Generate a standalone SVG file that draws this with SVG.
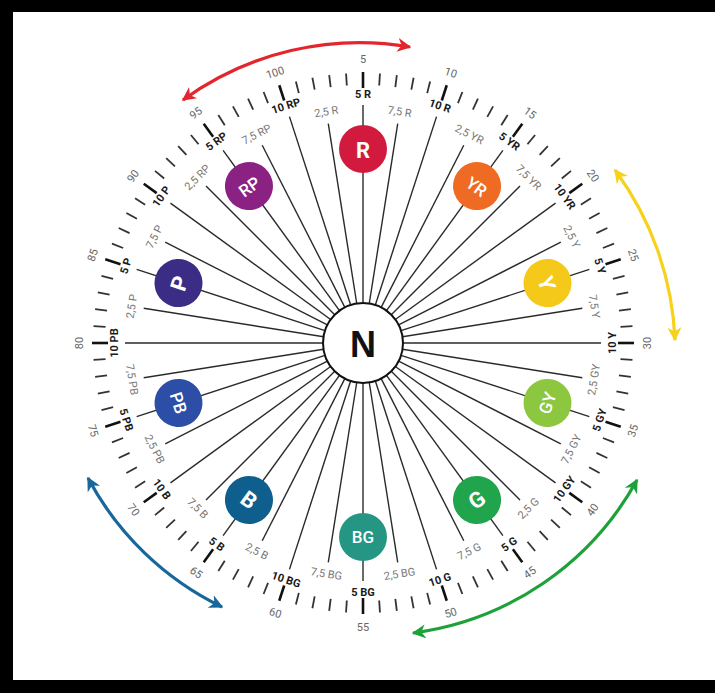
<svg xmlns="http://www.w3.org/2000/svg" xmlns:xlink="http://www.w3.org/1999/xlink" width="715" height="693" viewBox="0 0 715 693">
<style>
.ray{stroke:#2a2a2a;stroke-width:1.4}
.tk{stroke:#333;stroke-width:1.8}
.tkM{stroke:#111;stroke-width:2.6}
text{font-family:Roboto,"Liberation Sans",sans-serif;text-anchor:middle;dominant-baseline:central}
.lb{font-size:11px;font-weight:700;fill:#1a1a1a}
.lg{font-size:11px;font-weight:400;fill:#777}
.num{font-size:11px;font-weight:400;fill:#666}
.h1{font-size:22px;font-weight:700;fill:#fff}
.h2{font-size:17px;font-weight:500;fill:#fff}
.arc{fill:none;stroke-width:3.2}
</style>
<defs>
<line id="rb" class="ray" x1="363" y1="303" x2="363" y2="105"/>
<line id="rg" class="ray" x1="363" y1="303" x2="363" y2="121"/>
<line id="tk" class="tk" x1="363" y1="73" x2="363" y2="85"/>
<line id="tkM" class="tkM" x1="363" y1="72" x2="363" y2="88"/>
<marker id="mR" viewBox="0 0 10 10" refX="9" refY="5" markerWidth="14" markerHeight="14" markerUnits="userSpaceOnUse" orient="auto-start-reverse"><path d="M0,0 L10,5 L0,10 L3,5 z" fill="#e3262e"/></marker>
<marker id="mY" viewBox="0 0 10 10" refX="9" refY="5" markerWidth="14" markerHeight="14" markerUnits="userSpaceOnUse" orient="auto-start-reverse"><path d="M0,0 L10,5 L0,10 L3,5 z" fill="#f7d21c"/></marker>
<marker id="mG" viewBox="0 0 10 10" refX="9" refY="5" markerWidth="14" markerHeight="14" markerUnits="userSpaceOnUse" orient="auto-start-reverse"><path d="M0,0 L10,5 L0,10 L3,5 z" fill="#1fa13a"/></marker>
<marker id="mB" viewBox="0 0 10 10" refX="9" refY="5" markerWidth="14" markerHeight="14" markerUnits="userSpaceOnUse" orient="auto-start-reverse"><path d="M0,0 L10,5 L0,10 L3,5 z" fill="#17679a"/></marker>
</defs>
<rect x="0" y="0" width="715" height="693" fill="#000"/>
<rect x="13" y="12" width="702" height="668" fill="#fff"/>

<g id="connectors">
<use href="#rb" transform="rotate(0 363 343)"/>
<use href="#rg" transform="rotate(9 363 343)"/>
<use href="#rb" transform="rotate(18 363 343)"/>
<use href="#rg" transform="rotate(27 363 343)"/>
<use href="#rb" transform="rotate(36 363 343)"/>
<use href="#rg" transform="rotate(45 363 343)"/>
<use href="#rb" transform="rotate(54 363 343)"/>
<use href="#rg" transform="rotate(63 363 343)"/>
<use href="#rb" transform="rotate(72 363 343)"/>
<use href="#rg" transform="rotate(81 363 343)"/>
<use href="#rb" transform="rotate(90 363 343)"/>
<use href="#rg" transform="rotate(99 363 343)"/>
<use href="#rb" transform="rotate(108 363 343)"/>
<use href="#rg" transform="rotate(117 363 343)"/>
<use href="#rb" transform="rotate(126 363 343)"/>
<use href="#rg" transform="rotate(135 363 343)"/>
<use href="#rb" transform="rotate(144 363 343)"/>
<use href="#rg" transform="rotate(153 363 343)"/>
<use href="#rb" transform="rotate(162 363 343)"/>
<use href="#rg" transform="rotate(171 363 343)"/>
<use href="#rb" transform="rotate(180 363 343)"/>
<use href="#rg" transform="rotate(189 363 343)"/>
<use href="#rb" transform="rotate(198 363 343)"/>
<use href="#rg" transform="rotate(207 363 343)"/>
<use href="#rb" transform="rotate(216 363 343)"/>
<use href="#rg" transform="rotate(225 363 343)"/>
<use href="#rb" transform="rotate(234 363 343)"/>
<use href="#rg" transform="rotate(243 363 343)"/>
<use href="#rb" transform="rotate(252 363 343)"/>
<use href="#rg" transform="rotate(261 363 343)"/>
<use href="#rb" transform="rotate(270 363 343)"/>
<use href="#rg" transform="rotate(279 363 343)"/>
<use href="#rb" transform="rotate(288 363 343)"/>
<use href="#rg" transform="rotate(297 363 343)"/>
<use href="#rb" transform="rotate(306 363 343)"/>
<use href="#rg" transform="rotate(315 363 343)"/>
<use href="#rb" transform="rotate(324 363 343)"/>
<use href="#rg" transform="rotate(333 363 343)"/>
<use href="#rb" transform="rotate(342 363 343)"/>
<use href="#rg" transform="rotate(351 363 343)"/>
</g>

<g id="ticks">
<use href="#tkM" transform="rotate(0 363 343)"/><use href="#tk" transform="rotate(3.6 363 343)"/><use href="#tk" transform="rotate(7.2 363 343)"/><use href="#tk" transform="rotate(10.8 363 343)"/><use href="#tk" transform="rotate(14.4 363 343)"/>
<use href="#tkM" transform="rotate(18 363 343)"/><use href="#tk" transform="rotate(21.6 363 343)"/><use href="#tk" transform="rotate(25.2 363 343)"/><use href="#tk" transform="rotate(28.8 363 343)"/><use href="#tk" transform="rotate(32.4 363 343)"/>
<use href="#tkM" transform="rotate(36 363 343)"/><use href="#tk" transform="rotate(39.6 363 343)"/><use href="#tk" transform="rotate(43.2 363 343)"/><use href="#tk" transform="rotate(46.8 363 343)"/><use href="#tk" transform="rotate(50.4 363 343)"/>
<use href="#tkM" transform="rotate(54 363 343)"/><use href="#tk" transform="rotate(57.6 363 343)"/><use href="#tk" transform="rotate(61.2 363 343)"/><use href="#tk" transform="rotate(64.8 363 343)"/><use href="#tk" transform="rotate(68.4 363 343)"/>
<use href="#tkM" transform="rotate(72 363 343)"/><use href="#tk" transform="rotate(75.6 363 343)"/><use href="#tk" transform="rotate(79.2 363 343)"/><use href="#tk" transform="rotate(82.8 363 343)"/><use href="#tk" transform="rotate(86.4 363 343)"/>
<use href="#tkM" transform="rotate(90 363 343)"/><use href="#tk" transform="rotate(93.6 363 343)"/><use href="#tk" transform="rotate(97.2 363 343)"/><use href="#tk" transform="rotate(100.8 363 343)"/><use href="#tk" transform="rotate(104.4 363 343)"/>
<use href="#tkM" transform="rotate(108 363 343)"/><use href="#tk" transform="rotate(111.6 363 343)"/><use href="#tk" transform="rotate(115.2 363 343)"/><use href="#tk" transform="rotate(118.8 363 343)"/><use href="#tk" transform="rotate(122.4 363 343)"/>
<use href="#tkM" transform="rotate(126 363 343)"/><use href="#tk" transform="rotate(129.6 363 343)"/><use href="#tk" transform="rotate(133.2 363 343)"/><use href="#tk" transform="rotate(136.8 363 343)"/><use href="#tk" transform="rotate(140.4 363 343)"/>
<use href="#tkM" transform="rotate(144 363 343)"/><use href="#tk" transform="rotate(147.6 363 343)"/><use href="#tk" transform="rotate(151.2 363 343)"/><use href="#tk" transform="rotate(154.8 363 343)"/><use href="#tk" transform="rotate(158.4 363 343)"/>
<use href="#tkM" transform="rotate(162 363 343)"/><use href="#tk" transform="rotate(165.6 363 343)"/><use href="#tk" transform="rotate(169.2 363 343)"/><use href="#tk" transform="rotate(172.8 363 343)"/><use href="#tk" transform="rotate(176.4 363 343)"/>
<use href="#tkM" transform="rotate(180 363 343)"/><use href="#tk" transform="rotate(183.6 363 343)"/><use href="#tk" transform="rotate(187.2 363 343)"/><use href="#tk" transform="rotate(190.8 363 343)"/><use href="#tk" transform="rotate(194.4 363 343)"/>
<use href="#tkM" transform="rotate(198 363 343)"/><use href="#tk" transform="rotate(201.6 363 343)"/><use href="#tk" transform="rotate(205.2 363 343)"/><use href="#tk" transform="rotate(208.8 363 343)"/><use href="#tk" transform="rotate(212.4 363 343)"/>
<use href="#tkM" transform="rotate(216 363 343)"/><use href="#tk" transform="rotate(219.6 363 343)"/><use href="#tk" transform="rotate(223.2 363 343)"/><use href="#tk" transform="rotate(226.8 363 343)"/><use href="#tk" transform="rotate(230.4 363 343)"/>
<use href="#tkM" transform="rotate(234 363 343)"/><use href="#tk" transform="rotate(237.6 363 343)"/><use href="#tk" transform="rotate(241.2 363 343)"/><use href="#tk" transform="rotate(244.8 363 343)"/><use href="#tk" transform="rotate(248.4 363 343)"/>
<use href="#tkM" transform="rotate(252 363 343)"/><use href="#tk" transform="rotate(255.6 363 343)"/><use href="#tk" transform="rotate(259.2 363 343)"/><use href="#tk" transform="rotate(262.8 363 343)"/><use href="#tk" transform="rotate(266.4 363 343)"/>
<use href="#tkM" transform="rotate(270 363 343)"/><use href="#tk" transform="rotate(273.6 363 343)"/><use href="#tk" transform="rotate(277.2 363 343)"/><use href="#tk" transform="rotate(280.8 363 343)"/><use href="#tk" transform="rotate(284.4 363 343)"/>
<use href="#tkM" transform="rotate(288 363 343)"/><use href="#tk" transform="rotate(291.6 363 343)"/><use href="#tk" transform="rotate(295.2 363 343)"/><use href="#tk" transform="rotate(298.8 363 343)"/><use href="#tk" transform="rotate(302.4 363 343)"/>
<use href="#tkM" transform="rotate(306 363 343)"/><use href="#tk" transform="rotate(309.6 363 343)"/><use href="#tk" transform="rotate(313.2 363 343)"/><use href="#tk" transform="rotate(316.8 363 343)"/><use href="#tk" transform="rotate(320.4 363 343)"/>
<use href="#tkM" transform="rotate(324 363 343)"/><use href="#tk" transform="rotate(327.6 363 343)"/><use href="#tk" transform="rotate(331.2 363 343)"/><use href="#tk" transform="rotate(334.8 363 343)"/><use href="#tk" transform="rotate(338.4 363 343)"/>
<use href="#tkM" transform="rotate(342 363 343)"/><use href="#tk" transform="rotate(345.6 363 343)"/><use href="#tk" transform="rotate(349.2 363 343)"/><use href="#tk" transform="rotate(352.8 363 343)"/><use href="#tk" transform="rotate(356.4 363 343)"/>
</g>

<g id="numbers" class="num">
<text class="num" x="363" y="59" transform="rotate(0 363 343)">5</text>
<text class="num" x="363" y="59" transform="rotate(18 363 343)">10</text>
<text class="num" x="363" y="59" transform="rotate(36 363 343)">15</text>
<text class="num" x="363" y="59" transform="rotate(54 363 343)">20</text>
<text class="num" x="363" y="59" transform="rotate(72 363 343)">25</text>
<text class="num" x="363" y="59" transform="rotate(90 363 343) rotate(180 363 59)">30</text>
<text class="num" x="363" y="59" transform="rotate(108 363 343) rotate(180 363 59)">35</text>
<text class="num" x="363" y="59" transform="rotate(126 363 343) rotate(180 363 59)">40</text>
<text class="num" x="363" y="59" transform="rotate(144 363 343) rotate(180 363 59)">45</text>
<text class="num" x="363" y="59" transform="rotate(162 363 343) rotate(180 363 59)">50</text>
<text class="num" x="363" y="59" transform="rotate(180 363 343) rotate(180 363 59)">55</text>
<text class="num" x="363" y="59" transform="rotate(198 363 343) rotate(180 363 59)">60</text>
<text class="num" x="363" y="59" transform="rotate(216 363 343) rotate(180 363 59)">65</text>
<text class="num" x="363" y="59" transform="rotate(234 363 343) rotate(180 363 59)">70</text>
<text class="num" x="363" y="59" transform="rotate(252 363 343) rotate(180 363 59)">75</text>
<text class="num" x="363" y="59" transform="rotate(270 363 343)">80</text>
<text class="num" x="363" y="59" transform="rotate(288 363 343)">85</text>
<text class="num" x="363" y="59" transform="rotate(306 363 343)">90</text>
<text class="num" x="363" y="59" transform="rotate(324 363 343)">95</text>
<text class="num" x="363" y="59" transform="rotate(342 363 343)">100</text>
</g>

<g id="hue-labels">
<text class="lb" x="363" y="94" transform="rotate(0 363 343)">5 R</text>
<text class="lg" x="363" y="109" transform="rotate(9 363 343)">7,5 R</text>
<text class="lb" x="363" y="94" transform="rotate(18 363 343)">10 R</text>
<text class="lg" x="363" y="109" transform="rotate(27 363 343)">2,5 YR</text>
<text class="lb" x="363" y="94" transform="rotate(36 363 343)">5 YR</text>
<text class="lg" x="363" y="109" transform="rotate(45 363 343)">7,5 YR</text>
<text class="lb" x="363" y="94" transform="rotate(54 363 343)">10 YR</text>
<text class="lg" x="363" y="109" transform="rotate(63 363 343)">2,5 Y</text>
<text class="lb" x="363" y="94" transform="rotate(72 363 343)">5 Y</text>
<text class="lg" x="363" y="109" transform="rotate(81 363 343)">7,5 Y</text>
<text class="lb" x="363" y="94" transform="rotate(90 363 343) rotate(180 363 94)">10 Y</text>
<text class="lg" x="363" y="109" transform="rotate(99 363 343) rotate(180 363 109)">2,5 GY</text>
<text class="lb" x="363" y="94" transform="rotate(108 363 343) rotate(180 363 94)">5 GY</text>
<text class="lg" x="363" y="109" transform="rotate(117 363 343) rotate(180 363 109)">7,5 GY</text>
<text class="lb" x="363" y="94" transform="rotate(126 363 343) rotate(180 363 94)">10 GY</text>
<text class="lg" x="363" y="109" transform="rotate(135 363 343) rotate(180 363 109)">2,5 G</text>
<text class="lb" x="363" y="94" transform="rotate(144 363 343) rotate(180 363 94)">5 G</text>
<text class="lg" x="363" y="109" transform="rotate(153 363 343) rotate(180 363 109)">7,5 G</text>
<text class="lb" x="363" y="94" transform="rotate(162 363 343) rotate(180 363 94)">10 G</text>
<text class="lg" x="363" y="109" transform="rotate(171 363 343) rotate(180 363 109)">2,5 BG</text>
<text class="lb" x="363" y="94" transform="rotate(180 363 343) rotate(180 363 94)">5 BG</text>
<text class="lg" x="363" y="109" transform="rotate(189 363 343) rotate(180 363 109)">7,5 BG</text>
<text class="lb" x="363" y="94" transform="rotate(198 363 343) rotate(180 363 94)">10 BG</text>
<text class="lg" x="363" y="109" transform="rotate(207 363 343) rotate(180 363 109)">2,5 B</text>
<text class="lb" x="363" y="94" transform="rotate(216 363 343) rotate(180 363 94)">5 B</text>
<text class="lg" x="363" y="109" transform="rotate(225 363 343) rotate(180 363 109)">7,5 B</text>
<text class="lb" x="363" y="94" transform="rotate(234 363 343) rotate(180 363 94)">10 B</text>
<text class="lg" x="363" y="109" transform="rotate(243 363 343) rotate(180 363 109)">2,5 PB</text>
<text class="lb" x="363" y="94" transform="rotate(252 363 343) rotate(180 363 94)">5 PB</text>
<text class="lg" x="363" y="109" transform="rotate(261 363 343) rotate(180 363 109)">7,5 PB</text>
<text class="lb" x="363" y="94" transform="rotate(270 363 343)">10 PB</text>
<text class="lg" x="363" y="109" transform="rotate(279 363 343)">2,5 P</text>
<text class="lb" x="363" y="94" transform="rotate(288 363 343)">5 P</text>
<text class="lg" x="363" y="109" transform="rotate(297 363 343)">7,5 P</text>
<text class="lb" x="363" y="94" transform="rotate(306 363 343)">10 P</text>
<text class="lg" x="363" y="109" transform="rotate(315 363 343)">2,5 RP</text>
<text class="lb" x="363" y="94" transform="rotate(324 363 343)">5 RP</text>
<text class="lg" x="363" y="109" transform="rotate(333 363 343)">7,5 RP</text>
<text class="lb" x="363" y="94" transform="rotate(342 363 343)">10 RP</text>
<text class="lg" x="363" y="109" transform="rotate(351 363 343)">2,5 R</text>
</g>

<g id="arrows">
<path class="arc" stroke="#e3262e" d="M 183 100 A 300 300 0 0 1 410 47" marker-start="url(#mR)" marker-end="url(#mR)"/>
<path class="arc" stroke="#f7d21c" d="M 615 170 A 308 308 0 0 1 675 340" marker-start="url(#mY)" marker-end="url(#mY)"/>
<path class="arc" stroke="#1fa13a" d="M 637 480 A 300 300 0 0 1 413 633" marker-start="url(#mG)" marker-end="url(#mG)"/>
<path class="arc" stroke="#17679a" d="M 222 607 A 300 300 0 0 1 88 478" marker-start="url(#mB)" marker-end="url(#mB)"/>
</g>

<g id="node-N">
<circle cx="363" cy="343" r="40" fill="#fff" stroke="#111" stroke-width="2"/>
<text x="363" y="344" style="font-family:'Liberation Sans',Roboto,sans-serif;font-size:36px;font-weight:700;fill:#111">N</text>
</g>
<g id="node-R" transform="rotate(0 363 343)"><circle cx="363" cy="149" r="24" fill="#d21a3e"/><text class="h1" x="363" y="150">R</text></g>
<g id="node-YR" transform="rotate(36 363 343)"><circle cx="363" cy="149" r="24" fill="#ef6a22"/><text class="h2" x="363" y="150">YR</text></g>
<g id="node-Y" transform="rotate(72 363 343)"><circle cx="363" cy="149" r="24" fill="#f4c91a"/><text class="h1" x="363" y="150">Y</text></g>
<g id="node-GY" transform="rotate(108 363 343)"><circle cx="363" cy="149" r="24" fill="#8dc63f"/><text class="h2" x="363" y="149" transform="rotate(180 363 149)">GY</text></g>
<g id="node-G" transform="rotate(144 363 343)"><circle cx="363" cy="149" r="24" fill="#20a44c"/><text class="h1" x="363" y="149" transform="rotate(180 363 149)">G</text></g>
<g id="node-BG" transform="rotate(180 363 343)"><circle cx="363" cy="149" r="24" fill="#249683"/><text class="h2" x="363" y="149" transform="rotate(180 363 149)">BG</text></g>
<g id="node-B" transform="rotate(216 363 343)"><circle cx="363" cy="149" r="24" fill="#0e5f8e"/><text class="h1" x="363" y="149" transform="rotate(180 363 149)">B</text></g>
<g id="node-PB" transform="rotate(252 363 343)"><circle cx="363" cy="149" r="24" fill="#2c4ea6"/><text class="h2" x="363" y="149" transform="rotate(180 363 149)">PB</text></g>
<g id="node-P" transform="rotate(288 363 343)"><circle cx="363" cy="149" r="24" fill="#3b2d86"/><text class="h1" x="363" y="150">P</text></g>
<g id="node-RP" transform="rotate(324 363 343)"><circle cx="363" cy="149" r="24" fill="#8b2183"/><text class="h2" x="363" y="150">RP</text></g>
</svg>
